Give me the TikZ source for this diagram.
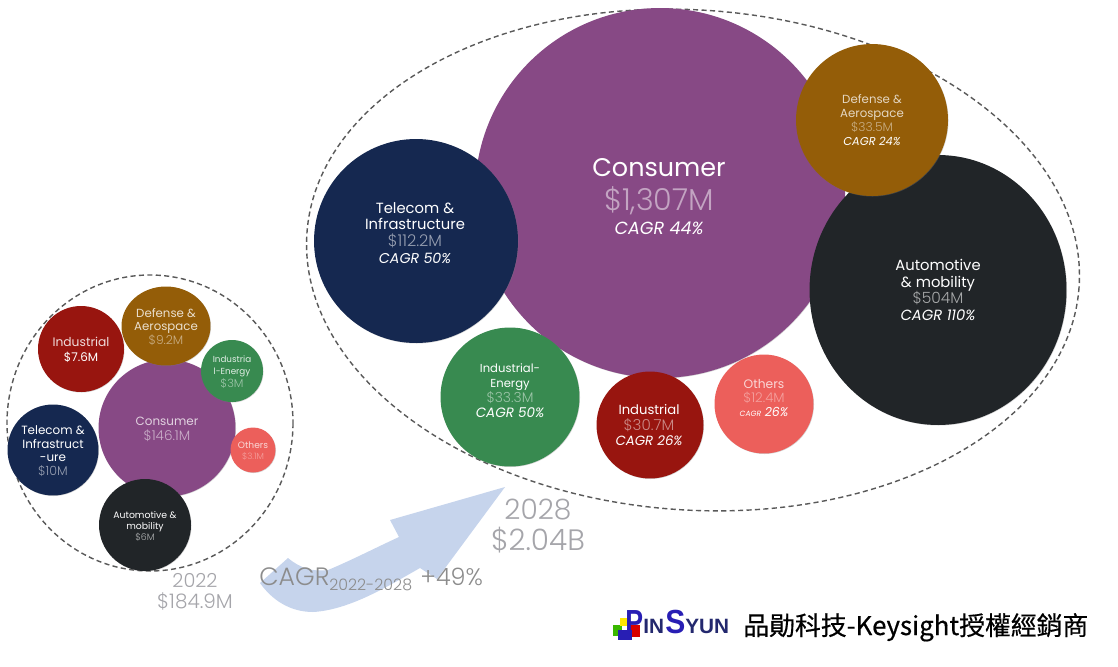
\documentclass[tikz,border=0pt]{standalone}
\usepackage{fontspec}
\usepackage{xcolor}
\usetikzlibrary{shadows,shapes.geometric}
\setmainfont{Poppins}[ItalicFont={Poppins Italic}]
\newfontfamily\lightf{Poppins Light}
\newfontfamily\cjk{Noto Sans CJK TC}[FakeBold=0.5]
\newfontfamily\logofont{Liberation Sans Bold}
\definecolor{cPurple}{RGB}{135,73,133}
\definecolor{cNavy}{RGB}{21,40,80}
\definecolor{cBrown}{RGB}{148,93,8}
\definecolor{cDark}{RGB}{33,37,40}
\definecolor{cGreen}{RGB}{56,138,80}
\definecolor{cRed}{RGB}{152,21,15}
\definecolor{cCoral}{RGB}{236,95,91}
\definecolor{cArrow}{RGB}{198,212,236}
\definecolor{cLabel}{RGB}{165,165,170}
\definecolor{cLogoA}{RGB}{40,30,180}
\definecolor{cLogoB}{RGB}{35,40,110}
\newcommand{\fs}[1]{\fontsize{#1}{0}\selectfont}
\tikzstyle{bubble}=[circle,inner sep=0pt,drop shadow={shadow xshift=0.3pt,shadow yshift=-0.3pt,opacity=0.35}]
\tikzstyle{texto}=[inner sep=0pt,align=center,text=white,font={\fontsize{10}{0}\selectfont\lineskiplimit=-100pt\relax}]
\tikzstyle{rim}=[dashed,dash pattern=on 2.9pt off 1.9pt,line width=0.8pt,draw=black!65]

\begin{document}
\begin{tikzpicture}[x=0.02cm,y=-0.02cm]
    \useasboundingbox (0,0) rectangle (1118,666);
    % dashed outlines
    \draw [rim,rotate around={-4:(693,260)}] (693,260) ellipse [x radius=387, y radius=250];
    \draw [rim] (150,423) ellipse [x radius=143, y radius=148];
    % arrow
    \fill [cArrow] (288,558) .. controls (300,568) and (312,572) .. (328,570)
        .. controls (352,560) and (375,548) .. (399,537) -- (390,520) -- (505,487)
        -- (437,579) -- (420,568) .. controls (390,585) and (350,610) .. (313,612)
        .. controls (290,612) and (272,600) .. (260,583) -- cycle;
    % 2028 bubbles
    \node [bubble,fill=cPurple,minimum size=7.4cm] (consumerB) at (660,193) {};
    \node [bubble,fill=cNavy,minimum size=4.08cm] (telecomB) at (416,241) {};
    \node [bubble,ellipse,fill=cDark,minimum width=5.14cm,minimum height=5.4cm] (autoB) at (938,290) {};
    \node [bubble,fill=cBrown,minimum size=3.04cm] (defenseB) at (872,120) {};
    \node [bubble,fill=cGreen,minimum size=2.78cm] (energyB) at (510,397) {};
    \node [bubble,fill=cRed,minimum size=2.14cm] (industrialB) at (650,425) {};
    \node [bubble,fill=cCoral,minimum size=1.98cm] (othersB) at (764,404) {};
    % 2022 bubbles
    \node [bubble,fill=cPurple,minimum size=2.74cm] (consumerA) at (167,428) {};
    \node [bubble,fill=cRed,minimum size=1.72cm] (industrialA) at (81,349) {};
    \node [bubble,ellipse,fill=cBrown,minimum width=1.78cm,minimum height=1.58cm] (defenseA) at (166,326) {};
    \node [bubble,fill=cGreen,minimum size=1.24cm] (energyA) at (232,371) {};
    \node [bubble,fill=cNavy,minimum size=1.82cm] (telecomA) at (53,450) {};
    \node [bubble,fill=cDark,minimum size=1.84cm] (autoA) at (145,525) {};
    \node [bubble,fill=cCoral,minimum size=0.9cm] (othersA) at (253,450) {};
    % 2028 texts
    \node [texto] (t1) at (659,197) {\fs{14.5}Consumer\\[19pt]
        \fs{17.2}\textcolor{cPurple!50!white}{\lightf\$1,307M}\\[14pt]
        \fs{10}\textit{CAGR 44\%}};
    \node [texto] (t2) at (415,233) {\fs{8.4}Telecom \&\\[9.6pt]
        \fs{8.4}Infrastructure\\[9.6pt]
        \fs{9.2}\textcolor{cNavy!45!white}{\lightf\$112.2M}\\[9.6pt]
        \fs{8.1}\textit{CAGR 50\%}};
    \node [texto] (t3) at (938,290) {\fs{8.4}Automotive\\[9.6pt]
        \fs{8.4}\& mobility\\[9.6pt]
        \fs{8.8}\textcolor{cDark!40!white}{\lightf\$504M}\\[9.6pt]
        \fs{8.4}\textit{CAGR 110\%}};
    \node [texto] (t4) at (872,120) {\fs{6.7}\textcolor{cBrown!25!white}{Defense \&}\\[7.9pt]
        \fs{6.7}\textcolor{cBrown!25!white}{Aerospace}\\[7.9pt]
        \fs{7}\textcolor{cBrown!50!white}{\lightf\$33.5M}\\[7.9pt]
        \fs{6.5}\textit{CAGR 24\%}};
    \node [texto] (t5) at (510,391) {\fs{6.6}Industrial-\\[8.5pt]
        \fs{6.6}Energy\\[8.5pt]
        \fs{7.9}\textcolor{cGreen!50!white}{\lightf\$33.3M}\\[8.5pt]
        \fs{7.7}\textit{CAGR 50\%}};
    \node [texto] (t6) at (649,425) {\fs{7.5}Industrial\\[9pt]
        \fs{8.6}\textcolor{cRed!50!white}{\lightf\$30.7M}\\[8.6pt]
        \fs{7.6}\textit{CAGR 26\%}};
    \node [texto] (t7) at (764,398) {\fs{7}\textcolor{cCoral!25!white}{Others}\\[7.9pt]
        \fs{7.6}\textcolor{cCoral!60!white}{\lightf\$12.4M}\\[7.9pt]
        \fs{7.1}\textit{{\fs{4.3}CAGR} 26\%}};
    % 2022 texts
    \node [texto] (t8) at (167,429) {\fs{6.8}\textcolor{cPurple!25!white}{Consumer}\\[8.5pt]
        \fs{7.7}\textcolor{cPurple!45!white}{\lightf\$146.1M}};
    \node [texto] (t9) at (81,350) {\fs{7}\textcolor{cRed!15!white}{Industrial}\\[8.5pt]
        \fs{6.8}\$7.6M};
    \node [texto] (t10) at (166,327) {\fs{6.7}\textcolor{cBrown!20!white}{Defense \&}\\[7.9pt]
        \fs{6.7}\textcolor{cBrown!20!white}{Aerospace}\\[7.9pt]
        \fs{7}\textcolor{cBrown!50!white}{\lightf\$9.2M}};
    \node [texto] (t11) at (232,372) {\fs{5}\textcolor{cGreen!15!white}{Industria}\\[7.1pt]
        \fs{5}\textcolor{cGreen!15!white}{l-Energy}\\[7.1pt]
        \fs{6.5}\textcolor{cGreen!50!white}{\lightf\$3M}};
    \node [texto] (t12) at (53,451) {\fs{6.8}Telecom \&\\[7.7pt]
        \fs{6.8}Infrastruct\\[7.7pt]
        \fs{6.8}-ure\\[7.7pt]
        \fs{7.2}\textcolor{cNavy!45!white}{\lightf\$10M}};
    \node [texto] (t13) at (145,526) {\fs{5.3}Automotive \&\\[6.2pt]
        \fs{5.3}mobility\\[6.2pt]
        \fs{5.3}\textcolor{cDark!35!white}{\lightf\$6M}};
    \node [texto] (t14) at (253,451) {\fs{5.2}\textcolor{cCoral!25!white}{Others}\\[6.2pt]
        \fs{5}\textcolor{cCoral!60!white}{\lightf\$3.1M}};
    % grey labels
    \node [texto,text=cLabel] (t15) at (195,592) {\fs{11}\lightf 2022\\[11.9pt]\fs{11.4}\lightf\$184.9M};
    \node [texto,text=cLabel] (t16) at (538,526) {\fs{16}\lightf 2028\\[18pt]\fs{16.8}\lightf\$2.04B};
    \node [texto,text=black!45,anchor=base west] (t17) at (259,585) {\fs{14.3}\lightf CAGR};
    \node [texto,text=black!45,anchor=base west] (t18) at (329,590) {\fs{9}\lightf 2022-2028};
    \node [texto,text=black!45,anchor=base west] (t19) at (420,585) {\fs{13.6}\lightf+49\%};
    % logo
    \fill [green!60!black!70!lime] (613,625) rectangle (622,636);
    \fill [yellow!90!orange] (620,618) rectangle (628,626);
    \fill [red!85!black] (630,625) rectangle (640,637);
    \fill [cLogoA] (618,630) rectangle (632,640);
    \node [texto,text=cLogoA,anchor=base west,xscale=0.8,transform shape] (logoP) at (625,633) {\logofont\fs{19}P};
    \node [texto,text=cLogoB,anchor=base west] (logoIN) at (643,633) {\logofont\fs{11.8}IN};
    \node [texto,text=cLogoA,anchor=base west,xscale=0.9,transform shape] (logoS) at (665,633) {\logofont\fs{19}S};
    \node [texto,text=cLogoB,anchor=base west] (logoY) at (685,633) {\logofont\fs{11.8}YUN};
    \node [texto,text=black,anchor=base west] (dealer) at (743,635) {\cjk\fs{14.7}品勛科技-Keysight授權經銷商};
\end{tikzpicture}
\end{document}
